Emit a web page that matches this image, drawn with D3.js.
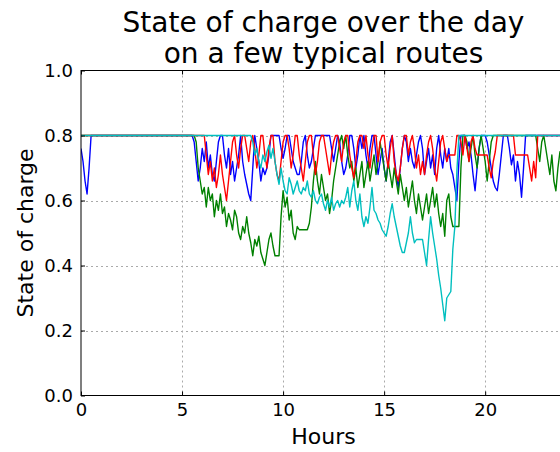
<!DOCTYPE html>
<html>
<head>
<meta charset="utf-8">
<script src="https://cdn.jsdelivr.net/npm/d3@7"></script>
<style>
  body { margin: 0; background: #fff; }
  text { font-family: 'DejaVu Sans', sans-serif; fill: #000; }
</style>
</head>
<body>
<svg id="chart" width="560" height="452"></svg>
<script>
// state of charge in percent, one value every 0.1 h from 0 h to 24 h
const hours = d3.range(241).map((i) => i / 10)

const blueSoc = [
  76, 72, 66, 62, 70, 80, 80, 80, 80, 80, // 0
  80, 80, 80, 80, 80, 80, 80, 80, 80, 80, // 1
  80, 80, 80, 80, 80, 80, 80, 80, 80, 80, // 2
  80, 80, 80, 80, 80, 80, 80, 80, 80, 80, // 3
  80, 80, 80, 80, 80, 80, 80, 80, 80, 80, // 4
  80, 80, 80, 80, 80, 80, 78, 72, 66, 70, // 5
  76, 72, 78, 70, 74, 68, 66, 72, 78, 80, // 6
  80, 74, 70, 76, 68, 72, 66, 70, 74, 80, // 7
  72, 68, 65, 62, 60, 70, 80, 76, 72, 66, // 8
  70, 68, 70, 74, 80, 80, 80, 80, 80, 76, // 9
  73, 76, 80, 80, 76, 72, 70, 68, 68, 72, // 10
  78, 80, 74, 70, 72, 76, 80, 80, 80, 80, // 11
  80, 80, 80, 80, 76, 72, 76, 80, 78, 72, // 12
  68, 70, 74, 80, 80, 76, 70, 74, 80, 76, // 13
  80, 74, 70, 76, 80, 80, 74, 68, 72, 76, // 14
  70, 66, 72, 78, 80, 74, 68, 64, 70, 76, // 15
  80, 78, 72, 76, 72, 70, 74, 78, 80, 76, // 16
  68, 72, 76, 70, 74, 68, 76, 80, 74, 70, // 17
  76, 72, 76, 70, 68, 64, 60, 72, 80, 80, // 18
  80, 76, 78, 74, 68, 63, 70, 76, 80, 80, // 19
  80, 78, 74, 70, 66, 64, 63, 68, 74, 80, // 20
  80, 80, 76, 71, 74, 66, 72, 68, 61, 70, // 21
  80, 80, 80, 80, 80, 80, 80, 80, 80, 80, // 22
  80, 80, 80, 80, 80, 80, 80, 80, 80, 80, // 23
  80
]

const greenSoc = [
  80, 80, 80, 80, 80, 80, 80, 80, 80, 80, // 0
  80, 80, 80, 80, 80, 80, 80, 80, 80, 80, // 1
  80, 80, 80, 80, 80, 80, 80, 80, 80, 80, // 2
  80, 80, 80, 80, 80, 80, 80, 80, 80, 80, // 3
  80, 80, 80, 80, 80, 80, 80, 80, 80, 80, // 4
  80, 80, 80, 80, 80, 80, 80, 78, 70, 66, // 5
  62, 64, 58, 64, 60, 62, 55, 60, 57, 62, // 6
  56, 58, 52, 56, 54, 51, 57, 55, 50, 48, // 7
  52, 50, 55, 50, 47, 43, 48, 46, 49, 44, // 8
  42, 40, 44, 48, 50, 46, 43, 43, 43, 55, // 9
  63, 58, 61, 54, 57, 50, 48, 52, 51, 51, // 10
  51, 51, 51, 53, 58, 66, 72, 66, 62, 68, // 11
  64, 60, 62, 56, 60, 66, 70, 74, 78, 80, // 12
  76, 80, 74, 70, 72, 66, 70, 64, 68, 72, // 13
  64, 68, 72, 66, 70, 74, 68, 72, 78, 74, // 14
  70, 66, 72, 68, 64, 70, 66, 62, 68, 64, // 15
  60, 64, 58, 62, 66, 60, 56, 62, 58, 54, // 16
  58, 62, 56, 60, 64, 58, 62, 56, 52, 56, // 17
  49, 60, 62, 55, 52, 52, 52, 52, 70, 80, // 18
  80, 78, 72, 76, 80, 74, 70, 76, 80, 76, // 19
  72, 66, 72, 78, 80, 80, 80, 80, 80, 80, // 20
  80, 80, 80, 80, 80, 80, 80, 80, 80, 80, // 21
  80, 80, 80, 80, 80, 80, 76, 72, 78, 80, // 22
  76, 72, 68, 74, 66, 63, 70, 75, 72, 76, // 23
  72
]

const redSoc = [
  80, 80, 80, 80, 80, 80, 80, 80, 80, 80, // 0
  80, 80, 80, 80, 80, 80, 80, 80, 80, 80, // 1
  80, 80, 80, 80, 80, 80, 80, 80, 80, 80, // 2
  80, 80, 80, 80, 80, 80, 80, 80, 80, 80, // 3
  80, 80, 80, 80, 80, 80, 80, 80, 80, 80, // 4
  80, 80, 80, 80, 80, 80, 80, 80, 80, 80, // 5
  80, 80, 74, 68, 72, 66, 70, 64, 68, 74, // 6
  68, 64, 60, 66, 72, 78, 80, 74, 70, 76, // 7
  80, 80, 76, 72, 78, 80, 76, 70, 74, 80, // 8
  80, 74, 70, 76, 80, 80, 72, 68, 66, 72, // 9
  78, 80, 80, 76, 70, 74, 80, 80, 74, 70, // 10
  66, 72, 78, 80, 80, 74, 68, 72, 78, 80, // 11
  80, 76, 72, 68, 74, 78, 80, 80, 76, 72, // 12
  78, 80, 80, 74, 70, 67, 72, 78, 80, 80, // 13
  76, 80, 74, 70, 76, 80, 80, 72, 78, 80, // 14
  80, 74, 70, 76, 80, 72, 68, 66, 70, 76, // 15
  80, 80, 74, 78, 80, 76, 70, 74, 68, 72, // 16
  68, 74, 78, 80, 76, 70, 66, 72, 78, 80, // 17
  76, 72, 74, 74, 74, 74, 80, 80, 78, 74, // 18
  80, 76, 72, 78, 80, 76, 74, 74, 74, 74, // 19
  74, 74, 70, 67, 72, 75, 80, 80, 80, 80, // 20
  80, 80, 80, 80, 80, 74, 74, 74, 74, 74, // 21
  74, 74, 70, 66, 72, 67, 80, 80, 80, 80, // 22
  80, 80, 80, 80, 80, 80, 80, 80, 80, 80, // 23
  80
]

const cyanSoc = [
  80, 80, 80, 80, 80, 80, 80, 80, 80, 80, // 0
  80, 80, 80, 80, 80, 80, 80, 80, 80, 80, // 1
  80, 80, 80, 80, 80, 80, 80, 80, 80, 80, // 2
  80, 80, 80, 80, 80, 80, 80, 80, 80, 80, // 3
  80, 80, 80, 80, 80, 80, 80, 80, 80, 80, // 4
  80, 80, 80, 80, 80, 80, 80, 80, 80, 80, // 5
  80, 80, 80, 80, 80, 80, 80, 80, 80, 80, // 6
  80, 80, 80, 80, 80, 80, 80, 80, 80, 80, // 7
  80, 80, 80, 80, 80, 78, 74, 76, 72, 70, // 8
  74, 72, 75, 77, 73, 76, 72, 68, 65, 70, // 9
  66, 63, 62, 67, 65, 62, 64, 66, 63, 62, // 10
  64, 63, 66, 62, 61, 63, 60, 59, 61, 62, // 11
  59, 57, 60, 58, 61, 57, 59, 60, 58, 60, // 12
  59, 61, 64, 58, 63, 66, 60, 57, 62, 55, // 13
  52, 55, 53, 58, 64, 57, 56, 54, 53, 51, // 14
  50, 49, 52, 56, 59, 55, 52, 49, 46, 44, // 15
  44, 47, 50, 55, 50, 47, 48, 48, 48, 48, // 16
  44, 40, 48, 55, 50, 46, 42, 37, 33, 28, // 17
  23, 30, 31, 32, 45, 52, 69, 80, 80, 80, // 18
  80, 80, 80, 80, 80, 80, 80, 80, 80, 80, // 19
  80, 80, 80, 80, 80, 80, 80, 80, 80, 80, // 20
  80, 80, 80, 80, 80, 80, 80, 80, 80, 80, // 21
  80, 80, 80, 80, 80, 80, 80, 80, 80, 80, // 22
  80, 80, 80, 80, 80, 80, 80, 80, 80, 80, // 23
  80
]

const hourTicks = [0, 5, 10, 15, 20]
const socTicks = [0, 0.2, 0.4, 0.6, 0.8, 1.0]

const routes = [
  { values: blueSoc, color: '#0000ff' },
  { values: greenSoc, color: '#008000' },
  { values: redSoc, color: '#ff0000' },
  { values: cyanSoc, color: '#00bfbf' }
]

const plotLeft = 81
const plotRight = 566
const plotTop = 70.5
const plotBottom = 395.5

const svg = d3.select('#chart')

const x = d3.scaleLinear().domain([0, 24]).range([plotLeft, plotRight])
const y = d3.scaleLinear().domain([0, 1]).range([plotBottom, plotTop])

svg.append('rect')
  .attr('width', 560).attr('height', 452).attr('fill', '#fff')

// grid
const grid = svg.append('g').attr('stroke', '#aaa').attr('stroke-dasharray', '2,3')
grid.selectAll('.gx')
  .data(hourTicks.slice(1))
  .join('line')
  .attr('x1', (d) => Math.round(x(d)) + 0.5).attr('x2', (d) => Math.round(x(d)) + 0.5)
  .attr('y1', plotTop).attr('y2', plotBottom)
grid.selectAll('.gy')
  .data(socTicks.slice(1, -1))
  .join('line')
  .attr('x1', plotLeft).attr('x2', plotRight)
  .attr('y1', (d) => Math.round(y(d)) + 0.5).attr('y2', (d) => Math.round(y(d)) + 0.5)

svg.append('clipPath').attr('id', 'plot')
  .append('rect')
  .attr('x', plotLeft).attr('y', plotTop - 1)
  .attr('width', plotRight - plotLeft).attr('height', plotBottom - plotTop + 2)

const line = d3.line()
  .x((d, i) => x(hours[i]))
  .y((d) => y(d / 100))

svg.append('g')
  .attr('clip-path', 'url(#plot)')
  .selectAll('path')
  .data(routes)
  .join('path')
  .attr('fill', 'none')
  .attr('stroke', (d) => d.color)
  .attr('stroke-width', 1.4)
  .attr('stroke-linejoin', 'round')
  .attr('d', (d) => line(d.values))

// axes, ticks inside like matplotlib classic
const axisX = d3.axisBottom(x).tickValues(hourTicks).tickSize(-4).tickPadding(8).tickFormat(d3.format('d'))
const axisY = d3.axisLeft(y).tickValues(socTicks).tickSize(-4).tickPadding(8).tickFormat(d3.format('.1f'))
const axisTop = d3.axisTop(x).tickValues(hourTicks).tickSize(-4).tickFormat('')

svg.append('g')
  .attr('transform', `translate(0, ${plotBottom})`)
  .call(axisX)
  .call((g) => g.select('.domain').remove())
  .call((g) => g.selectAll('text').style('font-size', '18px').attr('fill', '#000'))
svg.append('g')
  .attr('transform', `translate(${plotLeft}, 0)`)
  .call(axisY)
  .call((g) => g.select('.domain').remove())
  .call((g) => g.selectAll('text').style('font-size', '18px').attr('fill', '#000'))
svg.append('g')
  .attr('transform', `translate(0, ${plotTop})`)
  .call(axisTop)
  .call((g) => g.select('.domain').remove())

svg.append('rect')
  .attr('x', plotLeft).attr('y', plotTop)
  .attr('width', plotRight - plotLeft).attr('height', plotBottom - plotTop)
  .attr('fill', 'none').attr('stroke', '#000').attr('stroke-width', 1)

const midX = (plotLeft + plotRight) / 2

svg.append('text')
  .attr('x', midX).attr('y', 32)
  .attr('text-anchor', 'middle').style('font-size', '28px')
  .text('State of charge over the day')
svg.append('text')
  .attr('x', midX).attr('y', 63)
  .attr('text-anchor', 'middle').style('font-size', '28px')
  .text('on a few typical routes')

svg.append('text')
  .attr('x', midX).attr('y', 444)
  .attr('text-anchor', 'middle').style('font-size', '22px')
  .text('Hours')
svg.append('text')
  .attr('transform', `translate(33, ${(plotTop + plotBottom) / 2}) rotate(-90)`)
  .attr('text-anchor', 'middle').style('font-size', '22px')
  .text('State of charge')
</script>
</body>
</html>
